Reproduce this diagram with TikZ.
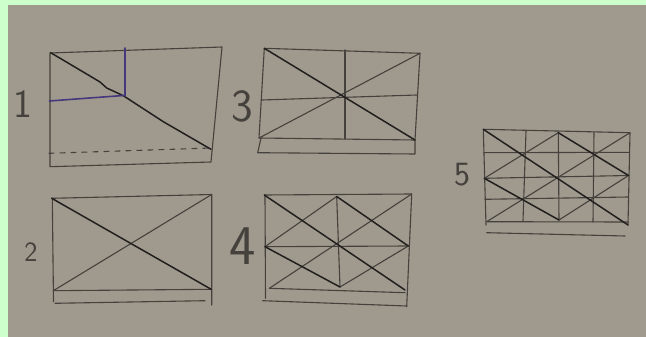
\documentclass[tikz,border=0pt]{standalone}
\usepackage{fontspec}
\begin{document}
\begin{tikzpicture}[x=1pt,y=-1pt,line join=round,line cap=round,
  dk/.style={draw=ink,line width=1.5pt},
  lt/.style={draw=inklt,line width=1.1pt},
  pu/.style={draw=purp,line width=1.6pt},
  lbl/.style={text=inklt,font=\sffamily,inner sep=0pt}]
\definecolor{paper}{HTML}{A09A8E}
\definecolor{frame}{HTML}{CCFFCC}
\definecolor{ink}{HTML}{22201E}
\definecolor{inklt}{HTML}{45413C}
\definecolor{purp}{HTML}{46387C}
\useasboundingbox (0,0) rectangle (646,337);
\fill[frame] (0,0) rectangle (646,337);
\fill[paper] (8,5) rectangle (646,337);
% ---------- sketch 1 ----------
\draw[lt] (50,53) -- (222,47) -- (211,162) -- (50,166.7) -- cycle;
\draw[lt,dashed,dash pattern=on 5pt off 6pt] (49,153.3) -- (211,148);
\draw[dk] (50.7,52.7) -- (88.3,75) -- (100,82) -- (106.7,88) -- (123.3,95.7) -- (163.3,121.7) -- (211,149.3);
\draw[pu] (125,48) -- (125,96);
\draw[pu] (49.3,101) -- (123.3,95.5);
\node[lbl,font=\sffamily\fontsize{40}{40}\selectfont] (l1) at (23,104) {1};
% ---------- sketch 3 ----------
\coordinate (t3a) at (264.3,48.3); \coordinate (t3b) at (420,53.3);
\coordinate (b3a) at (259,138); \coordinate (b3b) at (415,140);
\draw[lt] (t3a) -- (t3b) -- (b3b) -- (b3a) -- cycle;
\draw[lt] (261,138) -- (257.7,152.7) -- (415,154) -- (415,140);
\draw[lt] (345,50) -- (345,139);
\draw[lt] (261.7,100) -- (416.7,95);
\draw[lt] (b3a) -- (t3b);
\draw[dk] (t3a) -- (b3b);
\node[lbl,font=\sffamily\fontsize{46}{46}\selectfont] (l3) at (242,106) {3};
% ---------- sketch 2 ----------
\coordinate (t2a) at (51.7,198.3); \coordinate (t2b) at (211.7,194.5);
\coordinate (b2a) at (53.3,290.7); \coordinate (b2b) at (211.2,289.3);
\draw[lt] (t2a) -- (t2b) -- (211.7,305);
\draw[lt] (52.3,198.3) -- (53.5,301.7);
\draw[lt] (b2a) -- (b2b);
\draw[lt] (55,303.3) -- (205,300.7);
\draw[lt] (b2a) -- (t2b);
\draw[dk] (t2a) -- (b2b);
\node[lbl,font=\sffamily\fontsize{28}{28}\selectfont] (l2) at (31,252) {2};
% ---------- sketch 4 ----------
\coordinate (t4a) at (264.3,195); \coordinate (t4m) at (336.7,196.5); \coordinate (t4b) at (411.7,194);
\coordinate (m4a) at (265,246.7); \coordinate (m4b) at (408.3,246);
\coordinate (b4a) at (269.3,288.3); \coordinate (b4m) at (340,287); \coordinate (b4b) at (405,290);
\draw[lt] (t4a) -- (t4b) -- (406.7,306.7);
\draw[lt] (265,195) -- (265.5,298.3);
\draw[lt] (b4a) -- (405,292.7);
\draw[lt] (262.7,300.7) -- (406.7,306);
\draw[lt] (t4m) -- (b4m);
\draw[lt] (m4a) -- (m4b);
\draw[lt] (b4a) -- (t4b);
\draw[lt] (m4a) -- (t4m);
\draw[lt] (b4m) -- (m4b);
\draw[dk] (t4a) -- (b4b);
\draw[dk] (m4a) -- (b4m);
\draw[dk] (t4m) -- (m4b);
\node[lbl,font=\sffamily\fontsize{56}{56}\selectfont] (l4) at (243,246) {4};
% ---------- sketch 5 ----------
\coordinate (t5a) at (483.3,129.3); \coordinate (t5m) at (558.3,132.7); \coordinate (t5b) at (630,132.7);
\coordinate (m5a) at (484.3,178.3); \coordinate (m5b) at (628.5,175.5);
\coordinate (b5a) at (486.7,221.7); \coordinate (b5m) at (559,220); \coordinate (b5b) at (628,225);
\draw[lt] (t5a) -- (t5b) -- (b5b);
\draw[lt] (t5a) -- (486,225);
\draw[lt] (b5a) -- (628,222);
\draw[lt] (486.7,232.7) -- (625,236);
\draw[lt] (484,152.7) -- (629.5,152.3);
\draw[lt] (m5a) -- (m5b);
\draw[lt] (485,199.3) -- (628.5,197);
\draw[lt] (526,131) -- (523,221);
\draw[lt] (t5m) -- (b5m);
\draw[lt] (594,132.5) -- (593,222);
\draw[lt] (b5a) -- (t5b);
\draw[lt] (m5a) -- (t5m);
\draw[lt] (b5m) -- (m5b);
\draw[dk] (t5a) -- (b5b);
\draw[dk] (m5a) -- (b5m);
\draw[dk] (t5m) -- (m5b);
\node[lbl,font=\sffamily\fontsize{34}{34}\selectfont] (l5) at (462,175) {5};
\end{tikzpicture}
\end{document}
